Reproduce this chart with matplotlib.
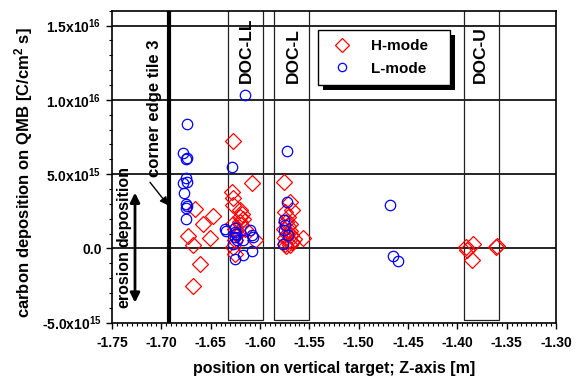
import matplotlib
matplotlib.use("Agg")
import matplotlib.pyplot as plt
from matplotlib.patches import Rectangle
from matplotlib.ticker import MultipleLocator
import numpy as np

plt.rcParams['font.family'] = 'Liberation Sans'
plt.rcParams['font.weight'] = 'bold'
plt.rcParams['mathtext.fontset'] = 'custom'
plt.rcParams['mathtext.rm'] = 'Liberation Sans:bold'
plt.rcParams['mathtext.it'] = 'Liberation Sans:bold'
plt.rcParams['mathtext.bf'] = 'Liberation Sans:bold'

# --- datos (Z en m, deposicion en 1e15 C/cm^2 s) ---
h_z = [-1.6659, -1.6473, -1.6575, -1.6507, -1.6727, -1.6682, -1.6608, -1.6676,
       -1.6270, -1.6084, -1.6287, -1.6277, -1.6277, -1.6203, -1.6186, -1.6203,
       -1.6270, -1.6152, -1.6253, -1.6051, -1.6270, -1.6253, -1.6220, -1.6190,
       -1.6236, -1.6170, -1.6250, -1.6200,
       -1.5757, -1.5696, -1.5679, -1.5747, -1.5713, -1.5561, -1.5696, -1.5747,
       -1.5740, -1.5720, -1.5700, -1.5730, -1.5690, -1.5750, -1.5710, -1.5680,
       -1.5760, -1.5700, -1.5735, -1.5660,
       -1.3905, -1.3910, -1.3838, -1.3855, -1.3601, -1.3605]
h_y = [2.68, 2.16, 1.67, 0.72, 0.81, 0.20, -1.03, -2.55,
       7.25, 4.41, 3.80, 3.36, 2.90, 2.61, 2.34, 1.78,
       1.67, 1.33, 1.33, 0.54, 0.09, -0.36, 1.10, 1.55,
       0.95, 1.95, 0.55, 2.11,
       4.48, 3.13, 2.57, 2.45, 2.11, 0.72, 0.20, 0.32,
       1.80, 1.50, 1.20, 1.00, 0.90, 0.70, 0.55, 0.40,
       1.30, 1.65, 0.15, 0.60,
       -0.14, 0.09, 0.27, -0.81, 0.14, 0.10]

l_z = [-1.6743, -1.6777, -1.6743, -1.6750, -1.6750, -1.6777, -1.6743, -1.6770,
       -1.6750, -1.6750, -1.6743, -1.6750, -1.6355, -1.6340,
       -1.6152, -1.6287, -1.6253, -1.6253, -1.6236, -1.6101, -1.6084, -1.6070,
       -1.6169, -1.6270, -1.6253, -1.6169, -1.6084, -1.6240, -1.6250,
       -1.5729, -1.5729, -1.5757, -1.5747, -1.5757, -1.5713, -1.5770,
       -1.4682, -1.4649, -1.4598]
l_y = [8.38, 6.44, 6.10, 6.05, 4.71, 4.37, 4.48, 3.70,
       3.02, 2.72, 2.85, 2.00, 1.33, 1.20,
       10.34, 5.49, 1.10, 0.76, 0.54, 1.22, 0.88, 0.80,
       0.54, 0.32, -0.70, -0.47, -0.18, 0.95, 1.35,
       6.57, 3.13, 1.89, 1.55, 1.22, 0.88, 0.32,
       2.95, -0.54, -0.88]

h_y = np.array(h_y) * 1e15
l_y = np.array(l_y) * 1e15

# cajas de los DOC (z inicio, z fin, etiqueta)
doc_names = ["DOC-LL", "DOC-L", "DOC-U"]
doc_start = [-1.6327, -1.5855, -1.3933]
doc_end = [-1.5972, -1.5500, -1.3580]
doc_text_z = [-1.6142, -1.5660, -1.3770]

corner_z = -1.6925
y_grid = [0, 5e15, 1e16, 1.5e16]
y_ticks = [-5e15, 0, 5e15, 1e16, 1.5e16]
y_ticklabels = [r"-5.0x10$^{15}$", "0.0", r"5.0x10$^{15}$",
                r"1.0x10$^{16}$", r"1.5x10$^{16}$"]

fig = plt.figure(figsize=(5.84, 3.78), dpi=100)
ax = fig.add_axes([0.1918, 0.1463, 0.7602, 0.8254])

ax.set_xlim(-1.75, -1.30)
ax.set_ylim(-5e15, 1.6e16)

for yg in y_grid:
    ax.axhline(yg, color='black', lw=1.2, zorder=1)

for zs, ze in zip(doc_start, doc_end):
    ax.add_patch(Rectangle((zs, -4.85e15), ze - zs, 2.1e16,
                           fill=False, edgecolor='#222222', lw=0.9, zorder=1))
for name, zt in zip(doc_names, doc_text_z):
    ax.text(zt, 1.115e16, name, rotation=90, ha='center', va='bottom',
            fontsize=12.5, fontweight='bold', zorder=3)

ax.axvline(corner_z, color='black', lw=3, zorder=2)
ax.text(-1.7074, 4.8e15, "corner edge tile 3", rotation=90, ha='center',
        va='bottom', fontsize=12, fontweight='bold')
ax.annotate("", xy=(-1.693, 2.9e15), xytext=(-1.7115, 4.45e15),
            arrowprops=dict(arrowstyle='-|>', color='black', lw=1,
                            mutation_scale=12, shrinkA=0, shrinkB=0))

# flecha doble erosion / deposicion
ax.annotate("", xy=(-1.7267, 3.75e15), xytext=(-1.7267, -3.65e15),
            arrowprops=dict(arrowstyle='<|-|>', color='black', lw=2,
                            mutation_scale=14, shrinkA=0, shrinkB=0))
ax.text(-1.7382, 0.1e15, "deposition", rotation=90, ha='center', va='bottom',
        fontsize=11.5, fontweight='bold')
ax.text(-1.7382, -0.1e15, "erosion", rotation=90, ha='center', va='top',
        fontsize=11.5, fontweight='bold')

ax.plot(h_z, h_y, linestyle='none', marker='D', markersize=8.5,
        markerfacecolor='none', markeredgecolor='red', markeredgewidth=0.9,
        label='H-mode   ', zorder=4)
ax.plot(l_z, l_y, linestyle='none', marker='o', markersize=7.5,
        markerfacecolor='none', markeredgecolor='blue', markeredgewidth=0.9,
        label='L-mode   ', zorder=4)

ax.set_yticks(y_ticks, labels=y_ticklabels)
ax.xaxis.set_major_locator(MultipleLocator(0.05))
ax.xaxis.set_minor_locator(MultipleLocator(0.005))
ax.yaxis.set_minor_locator(MultipleLocator(1e15))
ax.xaxis.set_major_formatter(plt.FuncFormatter(lambda v, p: f"{v:.2f}"))
ax.tick_params(which='major', length=4.5, width=1, labelsize=10, pad=5)
ax.tick_params(which='minor', length=2.5, width=0.8)
ax.tick_params(axis='y', which='major', pad=3)
for s in ax.spines.values():
    s.set_linewidth(1.2)

ax.set_xlabel("position on vertical target; Z-axis [m]", fontsize=11.5,
              fontweight='bold', labelpad=8)
ax.set_ylabel(r"carbon deposition on QMB [C/cm$^2$ s]", fontsize=12,
              fontweight='bold')
ax.yaxis.set_label_coords(-0.173, 0.481)

leg = ax.legend(loc='upper left', bbox_to_anchor=(0.464, 0.938),
                borderaxespad=0, fancybox=False, framealpha=1,
                edgecolor='black', fontsize=11, handlelength=2,
                handletextpad=0.9, borderpad=0.6, labelspacing=0.55,
                markerscale=0.8)
leg.get_frame().set_linewidth(1)
leg.set_zorder(6)

# sombra negra del recuadro de la leyenda
fig.canvas.draw()
bb = leg.get_window_extent().transformed(ax.transAxes.inverted())
dx = 5 / ax.bbox.width
dy = 5 / ax.bbox.height
ax.add_patch(Rectangle((bb.x0 + dx, bb.y0 - dy), bb.width, bb.height,
                       transform=ax.transAxes, facecolor='black',
                       edgecolor='none', clip_on=False, zorder=5.5))

fig.savefig("out.png", dpi=100)
